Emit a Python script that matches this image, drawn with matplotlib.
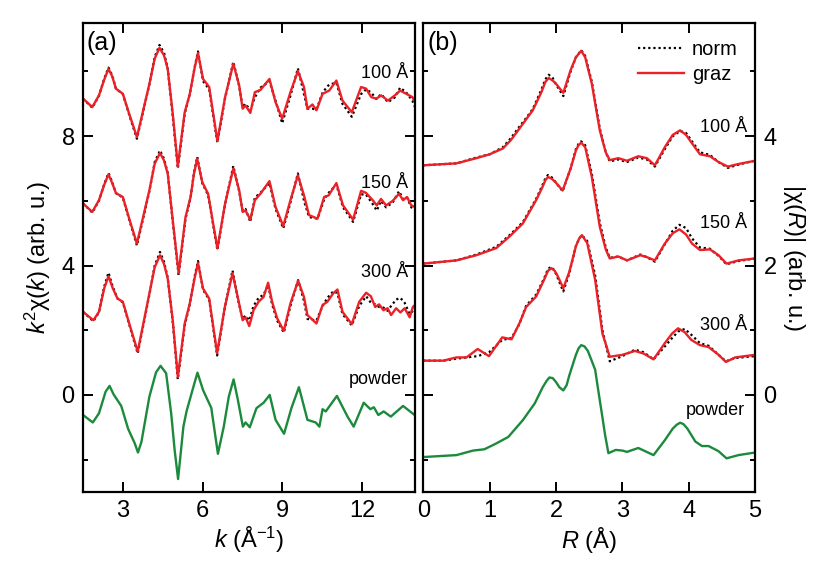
import matplotlib
matplotlib.use("Agg")
import matplotlib.pyplot as plt
from matplotlib.ticker import MultipleLocator

plt.rcParams['font.family'] = ['Liberation Sans', 'DejaVu Sans']
plt.rcParams['mathtext.fontset'] = 'custom'
plt.rcParams['mathtext.rm'] = 'Liberation Sans'
plt.rcParams['mathtext.it'] = 'Liberation Sans:italic'

# ---- (a) k^2 chi(k), curves already offset as plotted ----
k_100 = [1.5, 1.85, 2.1, 2.3, 2.46, 2.6, 2.74, 3.0, 3.24, 3.53, 4.0, 4.2, 4.38, 4.55, 4.69, 4.88,
         5.07, 5.33, 5.52, 5.7, 5.83, 6.02, 6.25, 6.56, 6.85, 7.16, 7.38, 7.51, 7.62, 7.8, 7.97,
         8.18, 8.52, 8.75, 9.0, 9.31, 9.59, 9.82, 9.95, 10.14, 10.29, 10.52, 10.77, 11.04, 11.27,
         11.62, 11.97, 12.16, 12.35, 12.54, 12.73, 12.98, 13.24, 13.44, 13.67, 13.9, 14.0]
graz_100 = [9.16, 8.9, 9.26, 9.75, 10.08, 9.85, 9.47, 9.31, 8.69, 7.97, 9.62, 10.4, 10.73, 10.5, 10.08, 8.69,
            7.07, 8.74, 9.3, 10.1, 10.57, 9.77, 9.52, 7.85, 9.21, 10.24, 9.57, 8.85, 8.95, 8.72, 9.36,
            9.43, 9.77, 9.05, 8.54, 9.36, 10.01, 9.52, 8.85, 8.98, 8.8, 9.31, 9.41, 9.72, 9.1,
            8.74, 9.52, 9.47, 9.21, 9.16, 9.26, 9.1, 9.26, 9.41, 9.31, 9.21, 9.05]
norm_100 = [9.16, 8.88, 9.25, 9.78, 10.12, 9.88, 9.47, 9.3, 8.66, 7.92, 9.6, 10.45, 10.82, 10.58, 10.1, 8.6,
            7.0, 8.7, 9.3, 10.12, 10.62, 9.7, 9.45, 7.8, 9.18, 10.3, 9.55, 8.9, 9.0, 8.8, 9.2,
            9.5, 9.7, 9.1, 8.4, 9.25, 10.1, 9.3, 8.85, 8.85, 8.82, 9.35, 9.6, 9.65, 9.0,
            8.6, 9.3, 9.45, 9.35, 9.15, 9.3, 9.05, 9.2, 9.5, 9.35, 9.1, 8.9]

k_150 = [1.5, 1.85, 2.1, 2.3, 2.46, 2.6, 2.74, 3.0, 3.24, 3.53, 4.0, 4.2, 4.4, 4.55, 4.69, 4.88,
         5.1, 5.36, 5.55, 5.68, 5.8, 5.99, 6.21, 6.56, 6.85, 7.16, 7.38, 7.51, 7.62, 7.8, 7.97,
         8.18, 8.52, 8.75, 9.04, 9.31, 9.59, 9.82, 10.01, 10.33, 10.58, 10.75, 11.04, 11.29, 11.67,
         11.97, 12.15, 12.41, 12.56, 12.72, 12.91, 13.16, 13.4, 13.55, 13.7, 13.86, 14.0]
graz_150 = [5.92, 5.66, 6.02, 6.5, 6.82, 6.55, 6.24, 6.12, 5.45, 4.68, 6.33, 7.15, 7.48, 7.25, 6.84, 5.4,
            3.77, 5.5, 6.12, 6.85, 7.3, 6.58, 6.22, 4.53, 5.92, 7.0, 6.33, 5.66, 5.7, 5.42, 6.02,
            6.22, 6.61, 5.81, 5.22, 6.02, 6.79, 6.17, 5.56, 5.45, 6.12, 6.17, 6.55, 5.86, 5.42,
            6.31, 6.25, 6.02, 5.86, 6.06, 5.86, 6.0, 6.22, 6.02, 6.12, 5.86, 5.81]
norm_150 = [5.92, 5.64, 6.0, 6.52, 6.86, 6.58, 6.24, 6.1, 5.42, 4.62, 6.3, 7.2, 7.56, 7.3, 6.86, 5.35,
            3.7, 5.45, 6.1, 6.88, 7.36, 6.55, 6.18, 4.48, 5.9, 7.08, 6.3, 5.7, 5.75, 5.35, 6.1,
            6.25, 6.55, 5.75, 5.15, 5.95, 6.85, 6.0, 5.5, 5.45, 6.05, 6.25, 6.5, 5.8, 5.35,
            6.2, 6.2, 5.9, 5.7, 6.0, 5.8, 5.95, 6.3, 6.05, 6.1, 5.8, 5.75]

k_300 = [1.5, 1.89, 2.1, 2.3, 2.46, 2.62, 2.8, 3.0, 3.24, 3.56, 4.0, 4.2, 4.4, 4.55, 4.69, 4.88,
         5.07, 5.33, 5.52, 5.7, 5.83, 6.02, 6.25, 6.55, 6.84, 7.13, 7.35, 7.51, 7.62, 7.76, 7.92,
         8.11, 8.3, 8.47, 8.62, 8.81, 9.06, 9.31, 9.6, 9.82, 9.95, 10.29, 10.52, 10.7, 10.92,
         11.08, 11.27, 11.62, 11.9, 12.16, 12.34, 12.5, 12.65, 12.81, 12.97, 13.1, 13.29, 13.45,
         13.61, 13.8, 13.92, 14.0]
graz_300 = [2.57, 2.31, 2.57, 3.3, 3.67, 3.3, 2.98, 2.88, 2.21, 1.34, 3.14, 3.95, 4.32, 4.05, 3.6, 2.3,
            0.55, 2.21, 2.83, 3.6, 4.08, 3.29, 2.98, 1.29, 2.72, 3.76, 2.93, 2.31, 2.4, 2.13, 2.62,
            2.88, 3.03, 3.47, 2.88, 2.37, 1.98, 2.83, 3.53, 3.03, 2.47, 2.21, 2.78, 2.88, 3.14,
            3.26, 2.57, 2.19, 2.88, 3.16, 3.05, 2.72, 2.8, 2.62, 2.68, 2.47, 2.68, 2.55,
            2.68, 2.4, 2.72, 2.78]
norm_300 = [2.57, 2.28, 2.55, 3.35, 3.78, 3.35, 2.98, 2.86, 2.18, 1.28, 3.1, 4.0, 4.42, 4.12, 3.62, 2.25,
            0.48, 2.15, 2.8, 3.65, 4.14, 3.25, 2.95, 1.22, 2.7, 3.85, 2.9, 2.35, 2.45, 2.3, 2.75,
            3.0, 3.1, 3.4, 2.8, 2.3, 1.93, 2.75, 3.55, 2.9, 2.35, 2.3, 2.75, 3.0, 3.2,
            3.15, 2.5, 2.15, 2.75, 3.05, 2.85, 2.8, 2.72, 2.7, 2.6, 2.75, 2.95, 3.0,
            2.85, 2.5, 2.6, 2.7]

k_pow = [1.5, 1.87, 2.1, 2.35, 2.5, 2.65, 2.94, 3.2, 3.45, 3.57, 3.7, 4.0, 4.25, 4.42, 4.63, 4.82,
         4.95, 5.08, 5.28, 5.4, 5.66, 5.81, 6.02, 6.16, 6.33, 6.58, 6.8, 6.99, 7.17, 7.33, 7.52,
         7.62, 7.78, 8.03, 8.3, 8.53, 8.75, 9.07, 9.35, 9.63, 9.95, 10.26, 10.4, 10.52, 10.64,
         11.06, 11.46, 11.69, 12.07, 12.32, 12.45, 12.62, 12.82, 13.09, 13.55, 14.0]
chik_pow = [-0.62, -0.85, -0.57, 0.1, 0.28, 0.02, -0.34, -1.05, -1.5, -1.78, -1.45, -0.05, 0.7, 0.9, 0.67,
            -0.57, -1.7, -2.6, -0.98, -0.5, 0.26, 0.69, 0.15, -0.1, -0.4, -1.82, -0.98, -0.05, 0.48,
            -0.15, -0.98, -0.85, -1.0, -0.41, -0.24, 0.0, -0.77, -1.2, -0.4, 0.24, -0.77, -0.85,
            -0.98, -0.44, -0.51, -0.03, -0.67, -0.98, -0.24, -0.44, -0.38, -0.62, -0.51, -0.67,
            -0.34, -0.63]

# ---- (b) |chi(R)|, curves already offset as plotted ----
R_100 = [0, 0.5, 0.8, 1.0, 1.2, 1.32, 1.45, 1.55, 1.65, 1.78, 1.84, 1.89, 1.95, 2.0, 2.11, 2.22,
         2.3, 2.38, 2.44, 2.54, 2.66, 2.75, 2.81, 2.94, 3.07, 3.24, 3.37, 3.49, 3.64, 3.76, 3.87,
         3.96, 4.05, 4.17, 4.32, 4.45, 4.59, 4.75, 4.9, 5.0]
grazR_100 = [3.55, 3.58, 3.66, 3.72, 3.81, 3.94, 4.12, 4.26, 4.4, 4.68, 4.84, 4.9, 4.86, 4.81, 4.67, 5.02,
             5.22, 5.32, 5.22, 4.81, 4.09, 3.75, 3.63, 3.66, 3.62, 3.69, 3.66, 3.55, 3.83, 4.02, 4.09,
             4.02, 3.89, 3.72, 3.69, 3.6, 3.53, 3.57, 3.6, 3.62]
normR_100 = [3.55, 3.58, 3.67, 3.72, 3.83, 3.97, 4.15, 4.28, 4.42, 4.72, 4.88, 4.95, 4.9, 4.8, 4.62, 5.0,
             5.22, 5.33, 5.24, 4.84, 4.12, 3.75, 3.61, 3.64, 3.6, 3.67, 3.64, 3.53, 3.8, 4.0, 4.08,
             4.05, 3.92, 3.75, 3.71, 3.6, 3.51, 3.56, 3.6, 3.62]

R_150 = [0, 0.5, 0.8, 1.1, 1.3, 1.5, 1.7, 1.79, 1.84, 1.88, 1.94, 2.0, 2.1, 2.22, 2.3, 2.34, 2.38,
         2.44, 2.54, 2.66, 2.75, 2.81, 2.94, 3.07, 3.27, 3.37, 3.49, 3.64, 3.76, 3.86, 3.96, 4.05,
         4.17, 4.32, 4.45, 4.57, 4.75, 5.0]
grazR_150 = [2.03, 2.08, 2.16, 2.27, 2.45, 2.65, 3.01, 3.2, 3.32, 3.37, 3.34, 3.28, 3.16, 3.5, 3.78, 3.86,
             3.9, 3.83, 3.37, 2.6, 2.25, 2.11, 2.14, 2.08, 2.16, 2.13, 2.08, 2.34, 2.5, 2.56, 2.48,
             2.34, 2.24, 2.25, 2.16, 2.03, 2.08, 2.11]
normR_150 = [2.03, 2.08, 2.17, 2.29, 2.47, 2.67, 3.03, 3.23, 3.35, 3.4, 3.36, 3.28, 3.15, 3.5, 3.8, 3.88,
             3.92, 3.86, 3.42, 2.66, 2.28, 2.12, 2.14, 2.08, 2.17, 2.13, 2.06, 2.33, 2.54, 2.63, 2.58,
             2.42, 2.28, 2.26, 2.15, 2.02, 2.07, 2.11]

R_300 = [0, 0.3, 0.5, 0.65, 0.82, 0.99, 1.19, 1.33, 1.45, 1.55, 1.7, 1.82, 1.88, 1.93, 1.98, 2.02,
         2.11, 2.2, 2.3, 2.35, 2.39, 2.47, 2.59, 2.7, 2.81, 3.0, 3.19, 3.32, 3.47, 3.64, 3.75,
         3.84, 3.94, 4.04, 4.17, 4.3, 4.45, 4.56, 4.7, 5.0]
grazR_300 = [0.53, 0.53, 0.58, 0.58, 0.71, 0.6, 0.89, 0.86, 1.11, 1.36, 1.52, 1.78, 1.92, 1.96, 1.92, 1.85,
             1.65, 1.9, 2.3, 2.42, 2.47, 2.35, 1.78, 0.95, 0.59, 0.62, 0.68, 0.64, 0.55, 0.8, 0.95,
             1.03, 0.97, 0.85, 0.77, 0.74, 0.62, 0.51, 0.58, 0.62]
normR_300 = [0.53, 0.53, 0.56, 0.58, 0.6, 0.66, 0.85, 0.88, 1.1, 1.38, 1.55, 1.8, 1.95, 1.98, 1.92, 1.82,
             1.6, 1.88, 2.3, 2.42, 2.47, 2.38, 1.85, 1.0, 0.52, 0.6, 0.7, 0.66, 0.55, 0.75, 0.88,
             0.98, 1.02, 0.93, 0.8, 0.76, 0.62, 0.52, 0.57, 0.6]

R_pow = [0, 0.5, 0.75, 0.92, 1.08, 1.28, 1.5, 1.68, 1.8, 1.86, 1.9, 1.95, 2.0, 2.05, 2.11, 2.16,
         2.2, 2.3, 2.34, 2.38, 2.43, 2.48, 2.53, 2.59, 2.64, 2.69, 2.74, 2.79, 2.9, 3.0, 3.07,
         3.24, 3.47, 3.64, 3.76, 3.82, 3.87, 3.92, 3.98, 4.1, 4.2, 4.3, 4.45, 4.57, 4.75, 5.0]
chiR_pow = [-0.96, -0.93, -0.86, -0.84, -0.76, -0.65, -0.39, -0.13, 0.12, 0.22, 0.27, 0.26, 0.2, 0.12,
            0.07, 0.15, 0.3, 0.62, 0.72, 0.77, 0.75, 0.68, 0.55, 0.39, 0.05, -0.28, -0.62, -0.9, -0.85,
            -0.86, -0.88, -0.82, -0.93, -0.7, -0.52, -0.46, -0.43, -0.45, -0.52, -0.72, -0.79, -0.79,
            -0.87, -0.98, -0.93, -0.89]

thick_labels = ["100 Å", "150 Å", "300 Å"]

RED = "#ec2127"
GREEN = "#1c8a3c"
dots = (0, (1, 1.3))

fig = plt.figure(figsize=(8.3, 5.73), dpi=100)
ax1 = fig.add_axes([0.1, 0.1414, 0.4, 0.8185])
ax2 = fig.add_axes([0.51, 0.1414, 0.3997, 0.8185])

# panel (a)
for k, n, g in [(k_100, norm_100, graz_100), (k_150, norm_150, graz_150), (k_300, norm_300, graz_300)]:
    ax1.plot(k, n, color="black", ls=dots, lw=1.6)
    ax1.plot(k, g, color=RED, lw=1.7)
ax1.plot(k_pow, chik_pow, color=GREEN, lw=1.7)

for lab, yv in zip(thick_labels, [9.94, 6.54, 3.79]):
    ax1.text(13.75, yv, lab, ha="right", va="center", fontsize=13)
ax1.text(13.75, 0.48, "powder", ha="right", va="center", fontsize=13)
ax1.text(0.012, 0.957, "(a)", transform=ax1.transAxes, ha="left", va="center", fontsize=18)

ax1.set_xlim(1.5, 14)
ax1.set_ylim(-3, 11.5)
ax1.set_xticks([3, 6, 9, 12])
ax1.set_yticks([0, 4, 8])
ax1.yaxis.set_minor_locator(MultipleLocator(2))
ax1.set_xlabel(r"$k$ (Å$^{-1}$)", fontsize=17, labelpad=2)
ax1.set_ylabel(r"$k^{2}$χ($k$) (arb. u.)", fontsize=17, labelpad=6)

# panel (b)
for r, n, g in [(R_100, normR_100, grazR_100), (R_150, normR_150, grazR_150), (R_300, normR_300, grazR_300)]:
    ax2.plot(r, n, color="black", ls=dots, lw=1.6, label="norm")
    ax2.plot(r, g, color=RED, lw=1.7, label="graz")
ax2.plot(R_pow, chiR_pow, color=GREEN, lw=1.7)

for lab, yv in zip(thick_labels, [4.14, 2.65, 1.07]):
    ax2.text(4.88, yv, lab, ha="right", va="center", fontsize=13)
ax2.text(4.85, -0.24, "powder", ha="right", va="center", fontsize=13)
ax2.text(0.012, 0.957, "(b)", transform=ax2.transAxes, ha="left", va="center", fontsize=18)

h, l = ax2.get_legend_handles_labels()
ax2.legend(h[:2], l[:2], loc="upper right", frameon=False, fontsize=14.5,
           handlelength=2.3, handletextpad=0.4, labelspacing=0.3,
           borderaxespad=0.2, bbox_to_anchor=(0.985, 0.99))

ax2.set_xlim(0, 5)
ax2.set_ylim(-1.5, 5.75)
ax2.set_xticks([0, 1, 2, 3, 4, 5])
ax2.set_yticks([0, 2, 4])
ax2.yaxis.set_minor_locator(MultipleLocator(1))
ax2.yaxis.set_label_position("right")
ax2.set_xlabel(r"$R$ (Å)", fontsize=17, labelpad=2)
ax2.set_ylabel(r"|χ($R$)| (arb. u.)", fontsize=17, rotation=-90, labelpad=22)

for ax in (ax1, ax2):
    for s in ax.spines.values():
        s.set_linewidth(1.6)
    ax.tick_params(which="both", direction="in", top=True, right=True, width=1.4)
    ax.tick_params(which="major", length=7, labelsize=17, pad=6)
    ax.tick_params(which="minor", length=3.5)
ax2.tick_params(axis="y", labelleft=False, labelright=True)

fig.savefig("out.png", dpi=100)
